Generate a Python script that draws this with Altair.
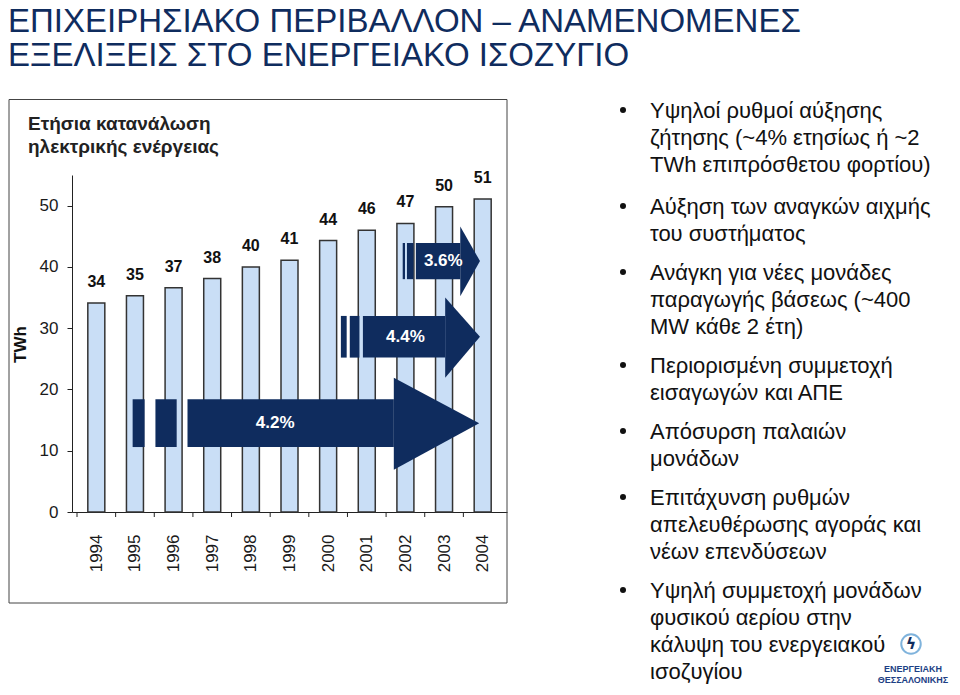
import altair as alt
import pandas as pd

# ---------------- data ----------------
years = [1994, 1995, 1996, 1997, 1998, 1999, 2000, 2001, 2002, 2003, 2004]
consumption_twh = [34.1, 35.3, 36.6, 38.1, 40.0, 41.1, 44.3, 46.0, 47.1, 49.8, 51.1]
value_labels = ["34", "35", "37", "38", "40", "41", "44", "46", "47", "50", "51"]

growth_labels = ["4.2%", "4.4%", "3.6%"]
arrow_start = [1996.36, 2000.90, 2002.27]
arrow_head_start = [2001.70, 2003.03, 2003.42]
arrow_tip = [2003.91, 2003.93, 2003.93]
arrow_body_low = [10.6, 25.2, 38.0]
arrow_body_high = [18.4, 32.0, 43.9]
arrow_head_low = [6.9, 21.9, 35.2]
arrow_head_high = [21.9, 35.0, 46.6]
stripe_a_start = [1994.94, 2000.33, 2001.93]
stripe_a_end = [1995.25, 2000.48, 2001.99]
stripe_b_start = [1995.53, 2000.56, 2002.04]
stripe_b_end = [1996.08, 2000.81, 2002.21]
growth_label_year = [1998.63, 2002.00, 2002.98]

title_lines = ["ΕΠΙΧΕΙΡΗΣΙΑΚΟ ΠΕΡΙΒΑΛΛΟΝ – ΑΝΑΜΕΝΟΜΕΝΕΣ", "ΕΞΕΛΙΞΕΙΣ ΣΤΟ ΕΝΕΡΓΕΙΑΚΟ ΙΣΟΖΥΓΙΟ"]
chart_title_lines = ["Ετήσια κατανάλωση", "ηλεκτρικής ενέργειας"]
bullets = [
    ["Υψηλοί ρυθμοί αύξησης", "ζήτησης (~4% ετησίως ή ~2", "TWh επιπρόσθετου φορτίου)"],
    ["Αύξηση των αναγκών αιχμής", "του συστήματος"],
    ["Ανάγκη για νέες μονάδες", "παραγωγής βάσεως (~400", "MW κάθε 2 έτη)"],
    ["Περιορισμένη συμμετοχή", "εισαγωγών και ΑΠΕ"],
    ["Απόσυρση παλαιών", "μονάδων"],
    ["Επιτάχυνση ρυθμών", "απελευθέρωσης αγοράς και", "νέων επενδύσεων"],
    ["Υψηλή συμμετοχή μονάδων", "φυσικού αερίου στην", "κάλυψη του ενεργειακού", "ισοζυγίου"],
]
logo_lines = ["ΕΝΕΡΓΕΙΑΚΗ", "ΘΕΣΣΑΛΟΝΙΚΗΣ"]

# ---------------- styling / layout ----------------
FONT = "Liberation Sans, Arial, sans-serif"
NAVY = "#0f2c5e"
BAR_FILL = "#c9def6"
PLOT_LEFT, PLOT_TOP = 72, 175      # page pixel position of the plot origin
W, H = 435, 337

def px(xp):
    return xp - PLOT_LEFT

def py(yp):
    return yp - PLOT_TOP

ys = alt.Scale(domain=[0, 55], nice=False, zero=True)
xq = alt.Scale(domain=[1993.5, 2004.5], nice=False, zero=False)

one = pd.DataFrame({"k": [0]})

# ---------------- bar chart ----------------
bars_df = pd.DataFrame({"year": years, "twh": consumption_twh, "label": value_labels})
base = alt.Chart(bars_df)

bars = base.mark_bar(fill=BAR_FILL, stroke="#333333", strokeWidth=1.5, size=17).encode(
    x=alt.X(
        "year:Q", scale=xq,
        axis=alt.Axis(
            orient="bottom", title=None, values=years, format="d", labelAngle=-90, labelFontSize=17,
            labelFont=FONT, labelColor="#1a1a1a", labelPadding=17, tickSize=5, tickOpacity=0,
            domainColor="#222222", domainWidth=1, grid=False, labelFlush=False, labelOverlap=False,
        ),
    ),
    y=alt.Y(
        "twh:Q", scale=ys,
        axis=alt.Axis(
            orient="left", values=[0, 10, 20, 30, 40, 50], title="TWh", titleFont=FONT, titleFontSize=17,
            titleFontWeight="bold", titleColor="#111111", titleX=-52, titleY=169, titleAngle=270,
            titleAlign="center", titleBaseline="middle", labelFont=FONT, labelFontSize=17,
            labelColor="#1a1a1a", labelPadding=9, tickSize=5, tickColor="#222222",
            domainColor="#222222", grid=False,
        ),
    ),
)

# x-axis tick marks sit on the boundaries between the yearly categories
bounds_df = pd.DataFrame({"b": [y - 0.5 for y in years]})
xticks = alt.Chart(bounds_df).mark_rule(color="#222222", strokeWidth=1).encode(
    x=alt.X("b:Q", scale=xq, axis=None), y=alt.value(H), y2=alt.value(H + 5)
)

vlabels = base.mark_text(
    font=FONT, fontSize=16, fontWeight="bold", baseline="alphabetic", dy=-16, color="#111111"
).encode(
    x=alt.X("year:Q", scale=xq, axis=None),
    y=alt.Y("twh:Q", scale=ys, axis=None),
    text="label:N",
)

# ---------------- growth arrows ----------------
arrows_df = pd.DataFrame({
    "label": growth_labels,
    "x0": arrow_start, "xh": arrow_head_start,
    "blo": arrow_body_low, "bhi": arrow_body_high,
    "sa0": stripe_a_start, "sa1": stripe_a_end,
    "sb0": stripe_b_start, "sb1": stripe_b_end,
    "lx": growth_label_year,
})
arrows_df["mid"] = (arrows_df["blo"] + arrows_df["bhi"]) / 2

heads_rows = []
for i in range(len(growth_labels)):
    mid = (arrow_body_low[i] + arrow_body_high[i]) / 2
    heads_rows.append({"id": i, "hx": arrow_head_start[i], "htop": arrow_head_high[i], "hbot": arrow_head_low[i]})
    heads_rows.append({"id": i, "hx": arrow_tip[i], "htop": mid, "hbot": mid})
heads_df = pd.DataFrame(heads_rows)

arr = alt.Chart(arrows_df)

def rect_layer(a, b):
    return arr.mark_rect(color=NAVY).encode(
        x=alt.X(f"{a}:Q", scale=xq, axis=None), x2=f"{b}:Q",
        y=alt.Y("blo:Q", scale=ys, axis=None), y2="bhi:Q",
    )

bodies = rect_layer("x0", "xh")
stripes_a = rect_layer("sa0", "sa1")
stripes_b = rect_layer("sb0", "sb1")

heads = alt.Chart(heads_df).mark_area(color=NAVY, opacity=1).encode(
    x=alt.X("hx:Q", scale=xq, axis=None),
    y=alt.Y("htop:Q", scale=ys, axis=None, stack=False),
    y2="hbot:Q",
    detail="id:N",
)

alabels = arr.mark_text(
    font=FONT, fontSize=17, fontWeight="bold", color="white", baseline="middle"
).encode(
    x=alt.X("lx:Q", scale=xq, axis=None),
    y=alt.Y("mid:Q", scale=ys, axis=None),
    text="label:N",
)

# ---------------- frame & slide text ----------------
box = alt.Chart(one).mark_rect(fillOpacity=0, stroke="#444444", strokeWidth=1).encode(
    x=alt.value(px(9)), x2=alt.value(px(507)), y=alt.value(py(99.5)), y2=alt.value(py(603))
)

def text_at(t, xp, yp, **kw):
    return alt.Chart(one).mark_text(text=t, align=kw.pop("align", "left"),
                                    baseline=kw.pop("baseline", "alphabetic"), **kw).encode(
        x=alt.value(px(xp)), y=alt.value(py(yp))
    )

overlays = []
# main slide title
overlays.append(text_at(title_lines[0], 8, 32, font=FONT, fontSize=33, color=NAVY))
overlays.append(text_at(title_lines[1], 8, 66, font=FONT, fontSize=33, color=NAVY))
# chart title inside the frame
overlays.append(text_at(chart_title_lines[0], 28, 130, font=FONT, fontSize=19, fontWeight="bold", color="#222222"))
overlays.append(text_at(chart_title_lines[1], 28, 153, font=FONT, fontSize=19, fontWeight="bold", color="#222222"))

# bullet list
LINE_STEP = 27
para_gaps = [42, 39, 39, 39, 39, 39]
yb = 118
for k, para in enumerate(bullets):
    overlays.append(
        alt.Chart(one).mark_point(filled=True, color="#111111", size=36, opacity=1).encode(
            x=alt.value(px(623)), y=alt.value(py(yb - 8))
        )
    )
    for j, line in enumerate(para):
        overlays.append(text_at(line, 650, yb + j * LINE_STEP, font=FONT, fontSize=22, color="#111111"))
    if k < len(para_gaps):
        yb += (len(para) - 1) * LINE_STEP + para_gaps[k]

# logo
overlays.append(
    alt.Chart(one).mark_point(filled=False, stroke="#7fb3dc", strokeWidth=2, size=380, opacity=1).encode(
        x=alt.value(px(911)), y=alt.value(py(644))
    )
)
overlays.append(text_at("ϟ", 911, 644, font="DejaVu Sans", fontSize=16, fontWeight="bold",
                        color=NAVY, align="center", baseline="middle"))
overlays.append(text_at(logo_lines[0], 913, 672, font=FONT, fontSize=9, fontWeight="bold",
                        color="#1d3f85", align="center"))
overlays.append(text_at(logo_lines[1], 913, 683, font=FONT, fontSize=9, fontWeight="bold",
                        color="#1d3f85", align="center"))

chart = alt.layer(
    bars, box, xticks, vlabels, bodies, stripes_a, stripes_b, heads, alabels, *overlays
).resolve_axis(x="independent", y="independent").properties(
    width=W, height=H,
    autosize=alt.AutoSizeParams(type="none"),
    padding={"left": PLOT_LEFT - 8, "top": PLOT_TOP - 8, "right": 952 - PLOT_LEFT - W, "bottom": 687 - PLOT_TOP - H},
    background="white",
).configure_view(strokeWidth=0)

chart.save("out.html", embed_options={"renderer": "svg", "actions": False})
